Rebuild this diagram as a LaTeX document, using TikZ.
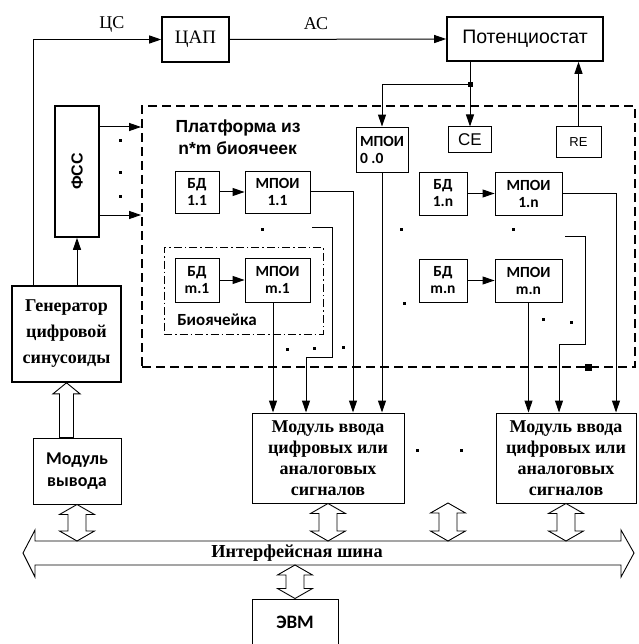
\documentclass[tikz,border=0pt]{standalone}
\usepackage{fontspec}
\setmainfont{Liberation Serif}
\newfontfamily\arialfont{Liberation Sans}
\newfontfamily\califont{Carlito}
\usetikzlibrary{arrows.meta,calc}

\newcommand{\hollowdbl}[2]{%
  \draw[hollow] let \p1=(#1), \p2=(#2) in
    (\x1,\y1) -- (\x1+17.5pt,\y1-10pt) -- (\x1+9pt,\y1-10pt) -- (\x1+9pt,\y2+10pt)
    -- (\x1+17.5pt,\y2+10pt) -- (\x1,\y2) -- (\x1-17.5pt,\y2+10pt) -- (\x1-9pt,\y2+10pt)
    -- (\x1-9pt,\y1-10pt) -- (\x1-17.5pt,\y1-10pt) -- cycle;}
\newcommand{\hollowup}[2]{%
  \draw[hollow] let \p1=(#1), \p2=(#2) in
    (\x1,\y1) -- (\x1+13.5pt,\y1-11pt) -- (\x1+7pt,\y1-11pt) -- (\x1+7pt,\y2)
    -- (\x1-7pt,\y2) -- (\x1-7pt,\y1-11pt) -- (\x1-13.5pt,\y1-11pt) -- cycle;}

\begin{document}
\begin{tikzpicture}[x=1pt, y=-1pt,
    box/.style={draw, rectangle, line width=1pt, align=center, inner sep=1pt},
    bbox/.style={box, line width=1.6pt},
    sbox/.style={box, line width=0.9pt, font=\califont\bfseries\fontsize{15.5}{17}\selectfont},
    tnr/.style={font=\bfseries\fontsize{18}{26}\selectfont},
    mod/.style={box, font=\bfseries\fontsize{18}{21}\selectfont, minimum height=90pt},
    arr/.style={-{Triangle[length=12pt,width=8pt]}, line width=1pt},
    hollow/.style={draw, fill=white, line width=0.9pt, line join=miter}]
    \useasboundingbox (0,0) rectangle (638,644);

    \node[bbox, minimum width=67pt, minimum height=45pt, font=\fontsize{19}{22}\selectfont] (dac) at (195.5,39.5) {ЦАП};
    \node[bbox, minimum width=156pt, minimum height=44pt, font=\arialfont\fontsize{19.5}{22}\selectfont] (pot) at (525,39) {Потенциостат};
    \node[font=\fontsize{18}{21}\selectfont] (lcs) at (112,24) {ЦС};
    \node[font=\fontsize{18}{21}\selectfont] (lac) at (316,24) {АС};

    \node[bbox, minimum width=44pt, minimum height=131pt] (fss) at (77,171.5) {};
    \node[rotate=90, font=\arialfont\bfseries\fontsize{16}{18}\selectfont] (fsst) at (fss) {ФСС};
    \node[bbox, tnr, minimum width=109pt, minimum height=96pt] (gen) at (66.5,334) {Генератор\\цифровой\\синусоиды};
    \node[box, minimum width=88pt, minimum height=66pt, font=\califont\bfseries\fontsize{18}{22}\selectfont] (out) at (77,471) {Модуль\\вывода};

    \node[draw, line width=1.8pt, dash pattern=on 9pt off 5pt, minimum width=493pt, minimum height=261pt] (plat) at (388.5,236.5) {};
    \node[align=left, font=\arialfont\bfseries\fontsize{17.5}{22}\selectfont] (platt) at (238,137) {Платформа из\\\,n*m биоячеек};
    \node[draw, line width=0.8pt, dash pattern=on 8pt off 3pt on 1.5pt off 3pt, minimum width=159pt, minimum height=87pt] (cell) at (243.5,290.5) {};
    \node[font=\califont\bfseries\fontsize{17}{20}\selectfont] (cellt) at (217,320) {Биоячейка};

    \node[sbox, minimum width=52pt, minimum height=45pt, align=left] (mp00) at (382,149.5) {МПОИ\\0 .0};
    \node[box, minimum width=43pt, minimum height=26pt, font=\arialfont\fontsize{17}{20}\selectfont] (ce) at (470,140) {CE};
    \node[box, minimum width=45pt, minimum height=31pt, font=\arialfont\fontsize{13}{15}\selectfont] (re) at (578.5,142.5) {RE};

    \node[sbox, minimum width=44pt, minimum height=42pt] (bd11) at (197,192) {БД\\1.1};
    \node[sbox, minimum width=65pt, minimum height=42pt] (mp11) at (277.5,192) {МПОИ\\1.1};
    \node[sbox, minimum width=44pt, minimum height=44pt] (bdm1) at (197,280) {БД\\m.1};
    \node[sbox, minimum width=65pt, minimum height=44pt] (mpm1) at (277.5,280) {МПОИ\\m.1};
    \node[sbox, minimum width=48pt, minimum height=43pt] (bd1n) at (443,193.5) {БД\\1.n};
    \node[sbox, minimum width=67pt, minimum height=43pt] (mp1n) at (528.5,193.5) {МПОИ\\1.n};
    \node[sbox, minimum width=48pt, minimum height=43pt] (bdmn) at (443,280.5) {БД\\m.n};
    \node[sbox, minimum width=67pt, minimum height=43pt] (mpmn) at (528.5,280.5) {МПОИ\\m.n};

    \node[mod, minimum width=152pt] (in1) at (328,458) {Модуль ввода\\цифровых или\\аналоговых\\сигналов};
    \node[mod, minimum width=140pt] (in2) at (566,458) {Модуль ввода\\цифровых или\\аналоговых\\сигналов};
    \node[box, minimum width=86pt, minimum height=46pt, font=\califont\bfseries\fontsize{19}{22}\selectfont] (evm) at (295,622) {ЭВМ};

    \draw[arr] ([xshift=-33.5pt]gen.north) |- (dac.west);
    \draw[arr] (dac.east) -- (pot.west);
    \coordinate (jn) at (470,85);
    \draw[arr] (pot.south -| ce.north) -- (ce.north);
    \draw[arr] (jn) -| (mp00.north);
    \fill (467.5,82.5) rectangle ++(5,5);
    \draw[arr] (re.north) -- (re.north |- pot.south);
    \foreach \y in {127,215}
        \draw[arr] (fss.east |- 0,\y) -- (plat.west |- 0,\y);
    \draw[arr] (gen.north -| fss.south) -- (fss.south);
    \foreach \a/\b in {bd11/mp11, bdm1/mpm1, bd1n/mp1n, bdmn/mpmn}
        \draw[arr] (\a) -- (\b);

    \draw[arr] (mp11.east) -| ([xshift=25pt]in1.north);
    \draw[arr] ([xshift=-4.5pt]mpm1.south) -- ([xshift=-4.5pt]mpm1.south |- in1.north);
    \coordinate (c1) at (312,227);
    \draw[arr] (c1) -| (332,357) -| ([xshift=-22pt]in1.north);
    \draw[arr] (mp00.south) -- (mp00.south |- in1.north);
    \draw[arr] (mp1n.east) -| ([xshift=50pt]in2.north);
    \coordinate (c2) at (565,236);
    \draw[arr] (c2) -| (585,344) -| ([xshift=-7pt]in2.north);
    \draw[arr] (mpmn.south) -- (mpmn.south |- in2.north);
    \fill (584.5,363.5) rectangle ++(7,7);

    \foreach \x/\y in {120/141, 120/173, 120/197, 262/229, 287/349, 314/348, 343/347,
                       401/229, 513/229, 404/303, 543/319, 571/322, 417/450, 461/450}
        \fill (\x-1.5,\y-1.5) rectangle ++(3,3);

    \draw[hollow] (23,553) -- (35,530) -- (35,541) -- (621,541) -- (621,530) -- (634,553)
        -- (621,577) -- (621,565) -- (35,565) -- (35,577) -- cycle;
    \node[font=\bfseries\fontsize{18.3}{21}\selectfont] (bus) at (297,553) {Интерфейсная шина};
    \coordinate (bustop) at (0,541);
    \coordinate (busbot) at (0,565);
    \coordinate (mid) at (448,503);

    \hollowup{gen.south}{out.north}
    \hollowdbl{out.south}{out.south |- bustop}
    \hollowdbl{in1.south}{in1.south |- bustop}
    \hollowdbl{mid}{mid |- bustop}
    \hollowdbl{in2.south}{in2.south |- bustop}
    \hollowdbl{busbot -| evm.north}{evm.north}
\end{tikzpicture}
\end{document}
